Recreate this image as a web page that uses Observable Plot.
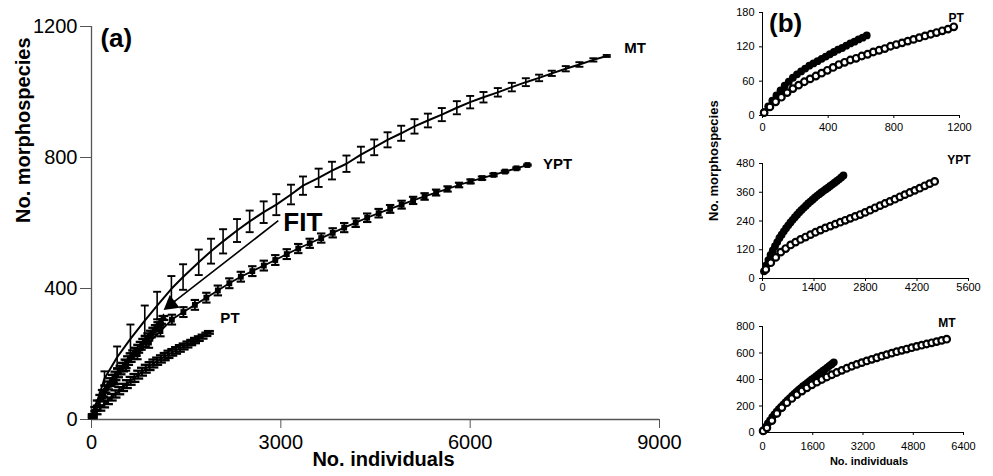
<!DOCTYPE html>
<html><head><meta charset="utf-8">
<script src="https://cdn.jsdelivr.net/npm/d3@7"></script>
<script src="https://cdn.jsdelivr.net/npm/@observablehq/plot@0.6"></script>
<style>
body{margin:0;background:#fff;}
#wrap{position:relative;width:993px;height:476px;overflow:hidden;background:#fff;font-family:"Liberation Sans",Arial,sans-serif;}
#wrap svg{position:absolute;overflow:visible;background:transparent;}
</style></head><body><div id="wrap"></div>
<script>
// ---------- Panel (a) data ----------
const mtX = [20, 206, 406, 617, 844, 1040, 1266, 1451, 1699, 1894, 2085, 2306, 2506, 2728, 2929, 3161, 3351, 3599, 3810, 4040, 4269, 4480, 4691, 4907, 5118, 5330, 5551, 5789, 6000, 6211, 6438, 6660, 6882, 7092, 7293, 7515, 7731, 7952, 8164];
const mtY = [12, 125, 190, 246, 302, 348, 399, 435, 480, 514, 544, 577, 605, 633, 656, 687, 714, 738, 760, 781, 809, 831, 854, 874, 895, 913, 931, 952, 969, 984, 999, 1015, 1030, 1043, 1057, 1071, 1084, 1098, 1110];
const mtE = [3, 22, 33, 44, 46, 42, 39, 39, 39, 38, 37, 35, 33, 33, 32, 30, 28, 28, 27, 25, 24, 24, 23, 23, 22, 21, 20, 20, 19, 16, 13, 13, 12, 10, 8, 8, 7, 5, 3];

const yptX = [20, 182, 364, 546, 728, 910, 1092, 1274, 1456, 1638, 1820, 2002, 2184, 2366, 2548, 2730, 2912, 3094, 3276, 3458, 3640, 3822, 4004, 4186, 4368, 4550, 4732, 4914, 5096, 5278, 5460, 5642, 5824, 6006, 6188, 6370, 6552, 6734, 6907];
const yptY = [12, 70, 122, 165, 200, 235, 270, 305, 328, 350, 372, 394, 416, 436, 453, 470, 487, 505, 522, 538, 554, 570, 586, 601, 616, 630, 643, 656, 669, 681, 693, 704, 716, 727, 737, 747, 757, 767, 777];
const yptE = [3, 12, 15, 16, 16, 16, 16, 15, 15, 15, 15, 15, 15, 15, 15, 15, 15, 15, 14, 14, 14, 14, 14, 13, 13, 13, 12, 12, 11, 10, 9, 8, 7, 6, 5, 4, 3, 3, 2];

const ptX = [20, 80, 140, 200, 260, 320, 380, 440, 500, 560, 620, 680, 740, 800, 860, 920, 980, 1040, 1100, 1160, 1220, 1280, 1340, 1400, 1460, 1520, 1580, 1640, 1700, 1760, 1820, 1860];
const ptY = [8, 22, 35, 46, 57, 68, 78, 88, 98, 108, 118, 127, 137, 146, 155, 163, 171, 178, 185, 192, 199, 205, 211, 217, 223, 229, 235, 241, 247, 253, 260, 266];
const ptE = [4, 6, 8, 9, 10, 10, 11, 11, 11, 12, 12, 12, 12, 12, 12, 12, 12, 11, 11, 11, 11, 10, 10, 10, 9, 9, 8, 8, 7, 6, 5, 4];

const fitX = [20, 60, 100, 140, 180, 220, 260, 300, 340, 380, 420, 460, 500, 540, 580, 620, 660, 700, 740, 780, 820, 860, 900, 940, 980, 1020, 1060, 1100, 1140];
const fitY = [12, 32, 50, 66, 80, 93, 104, 114, 124, 133, 142, 151, 160, 170, 180, 189, 198, 207, 216, 225, 234, 243, 252, 261, 270, 279, 289, 299, 310];
const fitE = [4, 6, 8, 9, 10, 11, 12, 12, 12, 13, 13, 13, 13, 13, 13, 13, 13, 12, 12, 12, 12, 11, 11, 10, 10, 9, 8, 7, 6];

const xTicksA = [0, 3000, 6000, 9000];
const yTicksA = [0, 400, 800, 1200];
const seriesLabels = ["MT", "YPT", "PT"];
const seriesLabelX = [8440, 7155, 2042];
const seriesLabelY = [1133, 779, 308];
const fitLabel = "FIT", fitLabelX = 3040, fitLabelY = 600;
const fitArrowX = [2960, 1260];
const fitArrowY = [607, 352];
const panelA = "(a)", panelAX = 142, panelAY = 1163;
const xTitle = "No. individuals", yTitle = "No. morphospecies";

// ---------- Panel (b) data ----------
const ptbOpenX = [10, 45, 80, 115, 150, 185, 220, 255, 290, 325, 360, 395, 430, 465, 500, 535, 570, 605, 640, 675, 710, 745, 780, 815, 850, 885, 920, 955, 990, 1025, 1060, 1095, 1130, 1165];
const ptbOpenY = [5, 15, 24, 32, 40, 47, 53, 59, 64, 69, 74, 79, 84, 89, 93, 97, 100, 104, 107, 111, 114, 117, 121, 124, 127, 130, 133, 136, 139, 142, 145, 148, 151, 155];
const ptbFillX = [10, 35, 60, 85, 110, 135, 160, 185, 210, 235, 260, 285, 310, 335, 360, 385, 410, 435, 460, 485, 510, 535, 560, 585, 610, 635];
const ptbFillY = [6, 16, 26, 35, 44, 52, 59, 66, 72, 77, 82, 87, 91, 95, 99, 103, 107, 111, 115, 118, 122, 126, 129, 133, 136, 140];

const ypbOpenX = [90, 225, 360, 495, 630, 765, 900, 1035, 1170, 1305, 1440, 1575, 1710, 1845, 1980, 2115, 2250, 2385, 2520, 2655, 2790, 2925, 3060, 3195, 3330, 3465, 3600, 3735, 3870, 4005, 4140, 4275, 4410, 4545, 4680];
const ypbOpenY = [38, 66, 88, 110, 125, 140, 152, 163, 173, 183, 193, 202, 211, 219, 227, 235, 243, 251, 259, 267, 276, 285, 295, 304, 313, 322, 331, 341, 350, 359, 368, 377, 387, 396, 405];
const ypbFillX = [40, 100, 160, 220, 280, 340, 400, 460, 520, 580, 640, 700, 760, 820, 880, 940, 1000, 1060, 1120, 1180, 1240, 1300, 1360, 1420, 1480, 1540, 1600, 1660, 1720, 1780, 1840, 1900, 1960, 2020, 2080, 2140, 2200];
const ypbFillY = [30, 55, 77, 98, 117, 135, 152, 169, 183, 197, 210, 222, 234, 245, 256, 266, 277, 286, 295, 304, 313, 321, 329, 337, 345, 352, 359, 366, 373, 379, 386, 393, 400, 407, 414, 422, 430];

const mtbOpenX = [20, 140, 299, 458, 617, 776, 935, 1094, 1253, 1412, 1571, 1730, 1889, 2048, 2207, 2366, 2525, 2684, 2843, 3002, 3161, 3320, 3479, 3638, 3797, 3956, 4115, 4274, 4433, 4592, 4751, 4910, 5069, 5228, 5387, 5546, 5705, 5864];
const mtbOpenY = [12, 35, 90, 144, 188, 225, 257, 286, 313, 337, 360, 380, 400, 419, 436, 453, 469, 485, 500, 514, 527, 540, 552, 564, 576, 588, 599, 610, 620, 630, 640, 650, 659, 668, 677, 686, 695, 704];
const mtbFillX = [30, 100, 170, 240, 310, 380, 450, 520, 590, 660, 730, 800, 870, 940, 1010, 1080, 1150, 1220, 1290, 1360, 1430, 1500, 1570, 1640, 1710, 1780, 1850, 1920, 1990, 2060, 2130, 2200, 2270];
const mtbFillY = [14, 42, 68, 92, 115, 137, 157, 176, 194, 211, 228, 244, 260, 276, 292, 307, 321, 335, 349, 362, 375, 388, 400, 413, 426, 438, 451, 464, 477, 490, 503, 516, 530];

const ptbTicksX = [0, 400, 800, 1200], ptbTicksY = [0, 60, 120, 180];
const ypbTicksX = [0, 1400, 2800, 4200, 5600], ypbTicksY = [0, 120, 240, 360, 480];
const mtbTicksX = [0, 1600, 3200, 4800, 6400], mtbTicksY = [0, 200, 400, 600, 800];
const panelB = "(b)";

// ---------- helpers ----------
const rows = (xs, ys, es) => xs.map((x, i) => ({x, y: ys[i], e: es ? es[i] : 0}));
const cap = {draw(ctx, size) { const w = Math.sqrt(size / Math.PI); ctx.moveTo(-w, 0); ctx.lineTo(w, 0); }};
const FONT = "Liberation Sans, Arial, sans-serif";

function errMarks(data, capR, sw) {
  return [
    Plot.ruleX(data, {x: "x", y1: d => d.y - d.e, y2: d => d.y + d.e, stroke: "#000", strokeWidth: sw}),
    Plot.dot(data, {x: "x", y: d => d.y + d.e, symbol: cap, r: capR, stroke: "#000", fill: "none", strokeWidth: sw + 0.3}),
    Plot.dot(data, {x: "x", y: d => d.y - d.e, symbol: cap, r: capR, stroke: "#000", fill: "none", strokeWidth: sw + 0.3})
  ];
}

const wrap = document.getElementById("wrap");
function place(svg, left, top) {
  svg.style.position = "absolute";
  svg.style.left = left + "px";
  svg.style.top = top + "px";
  wrap.appendChild(svg);
}

// ---------- Panel (a) ----------
const mt = rows(mtX, mtY, mtE), ypt = rows(yptX, yptY, yptE), pt = rows(ptX, ptY, ptE), fit = rows(fitX, fitY, fitE);
const labA = seriesLabels.map((t, i) => ({t, x: seriesLabelX[i], y: seriesLabelY[i]}));
const arrow = [{x1: fitArrowX[0], y1: fitArrowY[0], x2: fitArrowX[1], y2: fitArrowY[1]}];

const plotA = Plot.plot({
  width: 700, height: 476,
  marginLeft: 91, marginRight: 41, marginTop: 26, marginBottom: 57,
  x: {domain: [0, 9000]},
  y: {domain: [0, 1200]},
  style: {fontFamily: FONT, fontSize: "20px", color: "#000", background: "transparent"},
  marks: [
    Plot.axisX({ticks: xTicksA, tickSize: 9, tickPadding: 6, tickFormat: d => String(d), label: null, stroke: "#555"}),
    Plot.axisY({ticks: yTicksA, tickSize: 11, tickPadding: 3, tickFormat: d => String(d), label: null, stroke: "#555"}),
    Plot.ruleY([0], {stroke: "#555", strokeWidth: 1.3}),
    Plot.ruleX([0], {stroke: "#555", strokeWidth: 1.3}),
    // PT
    Plot.line(pt, {x: "x", y: "y", stroke: "#000", strokeWidth: 2}),
    ...errMarks(pt, 5, 2),
    // FIT
    Plot.line(fit, {x: "x", y: "y", stroke: "#000", strokeWidth: 2}),
    ...errMarks(fit, 5, 2),
    Plot.dot(fit, {x: "x", y: "y", symbol: "triangle", r: 3, fill: "#000"}),
    // YPT
    Plot.line(ypt, {x: "x", y: "y", stroke: "#000", strokeWidth: 1.8}),
    ...errMarks(ypt, 4.2, 1.8),
    Plot.dot(ypt, {x: "x", y: "y", symbol: "square", r: 3.3, fill: "#000"}),
    // MT
    Plot.line(mt, {x: "x", y: "y", stroke: "#000", strokeWidth: 2}),
    ...errMarks(mt, 4, 1.6),
    // labels
    Plot.text(labA, {x: "x", y: "y", text: "t", textAnchor: "start", fontSize: 15, fontWeight: "bold", fill: "#000"}),
    Plot.text([fitLabel], {x: fitLabelX, y: fitLabelY, text: d => d, textAnchor: "start", fontSize: 26, fontWeight: "bold", fill: "#000"}),
    Plot.link(arrow, {x1: "x1", y1: "y1", x2: "x2", y2: "y2", stroke: "#000", strokeWidth: 1.6}),
    Plot.dot(arrow, {x: "x2", y: "y2", symbol: "triangle", r: 6, rotate: 232, fill: "#000"}),
    Plot.text([panelA], {x: panelAX, y: panelAY, text: d => d, textAnchor: "start", fontSize: 26, fontWeight: "bold", fill: "#000"}),
    Plot.text([xTitle], {frameAnchor: "bottom", text: d => d, dx: 8, dy: 46, fontSize: 20, fontWeight: "bold", fill: "#000"}),
    Plot.text([yTitle], {frameAnchor: "left", text: d => d, rotate: -90, dx: -68, fontSize: 20, fontWeight: "bold", fill: "#000"})
  ]
});
place(plotA, 0, 0);

// ---------- Panel (b) ----------
function small({openX, openY, fillX, fillY, xd, yd, tx, ty, height, mt, mb, mr, padX, extra}) {
  const open = rows(openX, openY), fill = rows(fillX, fillY);
  return Plot.plot({
    width: 280, height,
    marginLeft: 62, marginRight: mr, marginTop: mt, marginBottom: mb,
    x: {domain: xd}, y: {domain: yd},
    style: {fontFamily: FONT, fontSize: "11px", color: "#000", background: "transparent"},
    marks: [
      Plot.axisX({ticks: tx, tickSize: 3, tickPadding: padX, tickFormat: d => String(d), label: null}),
      Plot.axisY({ticks: ty, tickSize: 3, tickPadding: 5, tickFormat: d => String(d), label: null}),
      Plot.ruleY([0], {stroke: "#000"}),
      Plot.ruleX([0], {stroke: "#000"}),
      Plot.dot(fill, {x: "x", y: "y", r: 3.9, fill: "#000"}),
      Plot.dot(open, {x: "x", y: "y", r: 3.3, fill: "#fff", stroke: "#000", strokeWidth: 2.2}),
      ...extra
    ]
  });
}

const bPT = small({openX: ptbOpenX, openY: ptbOpenY, fillX: ptbFillX, fillY: ptbFillY,
  xd: [0, 1200], yd: [0, 180], tx: ptbTicksX, ty: ptbTicksY, height: 145, mt: 12, mb: 30, mr: 21, padX: 5,
  extra: [
    Plot.text([panelB], {x: 40, y: 161, text: d => d, textAnchor: "start", fontSize: 26, fontWeight: "bold"}),
    Plot.text([seriesLabels[2]], {x: 1133, y: 170, text: d => d, textAnchor: "start", fontSize: 12, fontWeight: "bold"})
  ]});
place(bPT, 700, 0);

const bYPT = small({openX: ypbOpenX, openY: ypbOpenY, fillX: ypbFillX, fillY: ypbFillY,
  xd: [0, 5600], yd: [0, 480], tx: ypbTicksX, ty: ypbTicksY, height: 160, mt: 18, mb: 27, mr: 12, padX: 2,
  extra: [
    Plot.text([seriesLabels[1]], {x: 5025, y: 494, text: d => d, textAnchor: "start", fontSize: 12, fontWeight: "bold"}),
    Plot.text([yTitle], {frameAnchor: "left", text: d => d, rotate: -90, dx: -49, fontSize: 13, fontWeight: "bold"})
  ]});
place(bYPT, 700, 145);

const bMT = small({openX: mtbOpenX, openY: mtbOpenY, fillX: mtbFillX, fillY: mtbFillY,
  xd: [0, 6400], yd: [0, 800], tx: mtbTicksX, ty: mtbTicksY, height: 171, mt: 21, mb: 44, mr: 17, padX: 7,
  extra: [
    Plot.text([seriesLabels[0]], {x: 5596, y: 825, text: d => d, textAnchor: "start", fontSize: 12, fontWeight: "bold"}),
    Plot.text([xTitle], {frameAnchor: "bottom", text: d => d, dx: 6, dy: 32, fontSize: 11, fontWeight: "bold"})
  ]});
place(bMT, 700, 305);
</script></body></html>
